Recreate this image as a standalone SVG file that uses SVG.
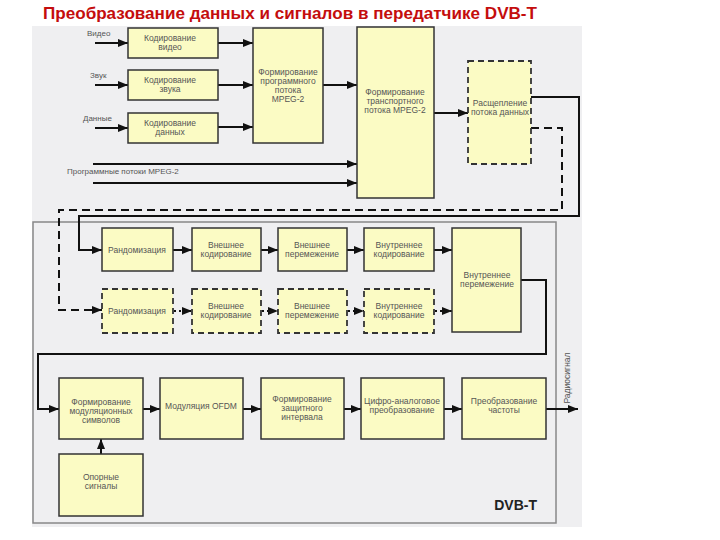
<svg xmlns="http://www.w3.org/2000/svg" width="720" height="540" viewBox="0 0 720 540">
<style>
.t{font-family:"Liberation Sans",Arial,sans-serif;font-size:8.5px;fill:#555;text-anchor:middle}
.l{font-family:"Liberation Sans",Arial,sans-serif;font-size:8px;fill:#555}
.b{fill:#fbfbc4;stroke:#333;stroke-width:1.5}
.bd{fill:#fbfbc4;stroke:#333;stroke-width:1.8;stroke-dasharray:6,4}
.c{fill:none;stroke:#111;stroke-width:2}
.cd{fill:none;stroke:#111;stroke-width:2;stroke-dasharray:8,5}
.cp{fill:none;stroke:#111;stroke-width:2;stroke-dasharray:2,3}
</style>
<defs>
<marker id="a" markerUnits="userSpaceOnUse" markerWidth="10" markerHeight="8" refX="10" refY="4" orient="auto">
<path d="M0,0 L10,4 L0,8 z" fill="#111"/>
</marker>
</defs>
<rect x="0" y="0" width="720" height="540" fill="#fff"/>
<text x="43" y="19" font-family="Liberation Sans,Arial,sans-serif" font-size="17" font-weight="bold" fill="#c40d0d" textLength="494" lengthAdjust="spacingAndGlyphs">Преобразование данных и сигналов в передатчике DVB-T</text>
<rect x="32" y="26" width="550" height="501" fill="#efeff1"/>
<rect x="33" y="222" width="523" height="301" fill="#efeff1" stroke="#888" stroke-width="1.5"/>

<g id="labels">
<text class="l" x="87" y="36">Видео</text>
<text class="l" x="90" y="78">Звук</text>
<text class="l" x="83" y="121">Данные</text>
<text class="l" x="67" y="174">Программные потоки MPEG-2</text>
<text class="t" x="0" y="0" transform="translate(570,378) rotate(-90)">Радиосигнал</text>
<text x="537" y="510" font-family="Liberation Sans,Arial,sans-serif" font-size="14" font-weight="bold" fill="#222" text-anchor="end">DVB-T</text>
</g>

<g id="connectors">
<path class="c" d="M95,43 H128" marker-end="url(#a)"/>
<path class="c" d="M95,85 H128" marker-end="url(#a)"/>
<path class="c" d="M95,128 H128" marker-end="url(#a)"/>
<path class="c" d="M218,43 H253" marker-end="url(#a)"/>
<path class="c" d="M218,85 H253" marker-end="url(#a)"/>
<path class="c" d="M218,127 H253" marker-end="url(#a)"/>
<path class="c" d="M323,85 H357" marker-end="url(#a)"/>
<path class="c" d="M93,164 H357" marker-end="url(#a)"/>
<path class="c" d="M93,183 H357" marker-end="url(#a)"/>
<path class="c" d="M434,113 H468" marker-end="url(#a)"/>
<path class="c" d="M531,97 H579 V216 H79 V250 H102" marker-end="url(#a)"/>
<path class="cd" d="M531,128 H562 V210 H59 V310 H102" marker-end="url(#a)"/>
<path class="c" d="M173,250 H192" marker-end="url(#a)"/>
<path class="c" d="M261,250 H278" marker-end="url(#a)"/>
<path class="c" d="M347,250 H364" marker-end="url(#a)"/>
<path class="c" d="M434,250 H452" marker-end="url(#a)"/>
<path class="cp" d="M174,311 H192" marker-end="url(#a)"/>
<path class="cp" d="M262,311 H278" marker-end="url(#a)"/>
<path class="cp" d="M348,311 H364" marker-end="url(#a)"/>
<path class="cp" d="M435,311 H452" marker-end="url(#a)"/>
<path class="c" d="M521,280 H546 V354 H38 V409 H59" marker-end="url(#a)"/>
<path class="c" d="M143,409 H160" marker-end="url(#a)"/>
<path class="c" d="M243,409 H261" marker-end="url(#a)"/>
<path class="c" d="M344,409 H361" marker-end="url(#a)"/>
<path class="c" d="M444,409 H462" marker-end="url(#a)"/>
<path class="c" d="M546,409 H578" marker-end="url(#a)"/>
<path class="c" d="M101,454 V439" marker-end="url(#a)"/>
</g>

<g id="n-vid"><rect class="b" x="128" y="28" width="90" height="30"/><text class="t" x="170" y="41">Кодирование</text><text class="t" x="170" y="50">видео</text></g>
<g id="n-aud"><rect class="b" x="128" y="70" width="90" height="30"/><text class="t" x="170" y="83">Кодирование</text><text class="t" x="170" y="92">звука</text></g>
<g id="n-dat"><rect class="b" x="128" y="113" width="90" height="30"/><text class="t" x="170" y="126">Кодирование</text><text class="t" x="170" y="135">данных</text></g>
<g id="n-prog"><rect class="b" x="253" y="28" width="70" height="115"/><text class="t" x="288" y="75">Формирование</text><text class="t" x="288" y="84">программного</text><text class="t" x="288" y="93">потока</text><text class="t" x="288" y="102">MPEG-2</text></g>
<g id="n-ts"><rect class="b" x="357" y="27" width="77" height="171"/><text class="t" x="395" y="95">Формирование</text><text class="t" x="395" y="104">транспортного</text><text class="t" x="395" y="113">потока MPEG-2</text></g>
<g id="n-split"><rect class="bd" x="468" y="61" width="63" height="103"/><text class="t" x="500" y="106">Расщепление</text><text class="t" x="500" y="115">потока данных</text></g>

<g id="n-rnd"><rect class="b" x="102" y="228" width="71" height="43"/><text class="t" x="137" y="253">Рандомизация</text></g>
<g id="n-oc"><rect class="b" x="192" y="228" width="69" height="43"/><text class="t" x="226" y="248">Внешнее</text><text class="t" x="226" y="257">кодирование</text></g>
<g id="n-oi"><rect class="b" x="278" y="228" width="69" height="43"/><text class="t" x="312" y="248">Внешнее</text><text class="t" x="312" y="257">перемежение</text></g>
<g id="n-ic"><rect class="b" x="364" y="228" width="70" height="43"/><text class="t" x="399" y="248">Внутреннее</text><text class="t" x="399" y="257">кодирование</text></g>
<g id="n-ii"><rect class="b" x="452" y="228" width="69" height="104"/><text class="t" x="487" y="278">Внутреннее</text><text class="t" x="487" y="287">перемежение</text></g>

<g id="n-rnd2"><rect class="bd" x="102" y="289" width="71" height="44"/><text class="t" x="137" y="314">Рандомизация</text></g>
<g id="n-oc2"><rect class="bd" x="192" y="289" width="69" height="44"/><text class="t" x="226" y="309">Внешнее</text><text class="t" x="226" y="318">кодирование</text></g>
<g id="n-oi2"><rect class="bd" x="278" y="289" width="69" height="44"/><text class="t" x="312" y="309">Внешнее</text><text class="t" x="312" y="318">перемежение</text></g>
<g id="n-ic2"><rect class="bd" x="364" y="289" width="70" height="44"/><text class="t" x="399" y="309">Внутреннее</text><text class="t" x="399" y="318">кодирование</text></g>

<g id="n-sym"><rect class="b" x="59" y="378" width="84" height="61"/><text class="t" x="101" y="405">Формирование</text><text class="t" x="101" y="414">модуляционных</text><text class="t" x="101" y="423">символов</text></g>
<g id="n-ofdm"><rect class="b" x="160" y="378" width="83" height="61"/><text class="t" x="201" y="409">Модуляция OFDM</text></g>
<g id="n-gi"><rect class="b" x="261" y="378" width="83" height="61"/><text class="t" x="302" y="402">Формирование</text><text class="t" x="302" y="411">защитного</text><text class="t" x="302" y="420">интервала</text></g>
<g id="n-dac"><rect class="b" x="361" y="378" width="83" height="61"/><text class="t" x="402" y="404">Цифро-аналоговое</text><text class="t" x="402" y="413">преобразование</text></g>
<g id="n-fc"><rect class="b" x="462" y="378" width="84" height="61"/><text class="t" x="504" y="404">Преобразование</text><text class="t" x="504" y="413">частоты</text></g>
<g id="n-pil"><rect class="b" x="59" y="454" width="84" height="62"/><text class="t" x="101" y="480">Опорные</text><text class="t" x="101" y="489">сигналы</text></g>
</svg>
